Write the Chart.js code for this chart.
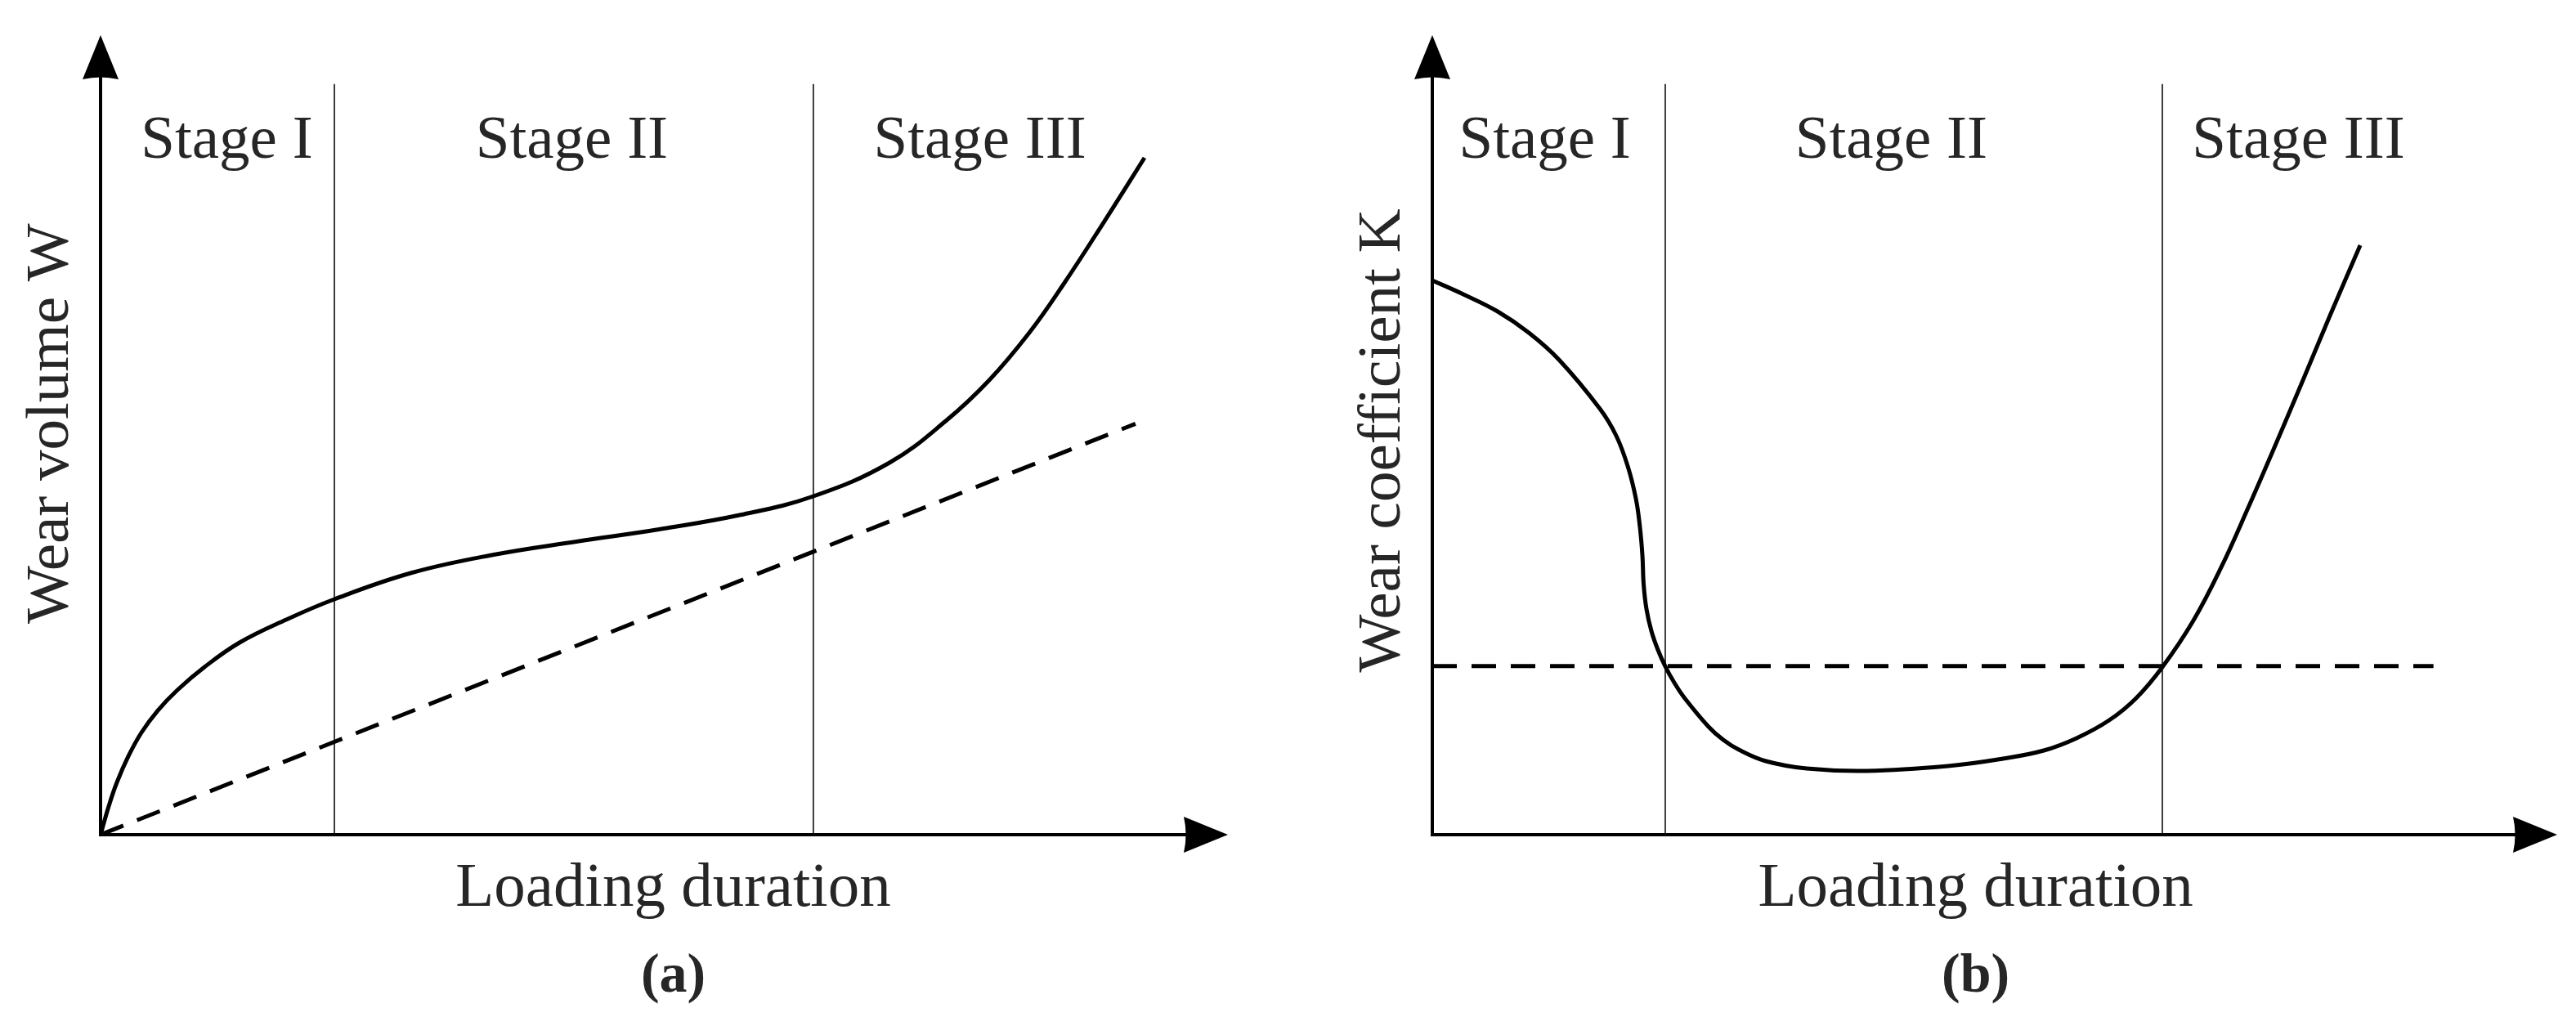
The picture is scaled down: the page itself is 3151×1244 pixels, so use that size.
<!DOCTYPE html>
<html>
<head>
<meta charset="utf-8">
<script src="https://cdn.jsdelivr.net/npm/chart.js@4.4.1/dist/chart.umd.min.js"></script>
<style>
  html, body { margin: 0; padding: 0; background: #fff; }
  #wrap { position: relative; width: 3151px; height: 1244px; }
  canvas { position: absolute; top: 0; }
</style>
</head>
<body>
<div id="wrap">
  <canvas id="panelA" width="1575" height="1244" style="left:0"></canvas>
  <canvas id="panelB" width="1576" height="1244" style="left:1575px"></canvas>
</div>
<script>
// schematic units: loading duration 0-100 along the x arrow, wear 0-100 along the y arrow
var stageNames = ['Stage I', 'Stage II', 'Stage III'];
var stageLabelY = 84.7;
var dividerTop = 93.9;

// (a) wear volume W
var wearVolumeX = [0, 0.73, 1.45, 2.47, 3.63, 5.08, 6.82, 9.21, 12.33, 16.46, 20.74, 27.63,
                   34.88, 42.20, 49.53, 56.78, 63.23, 69.98, 75.05, 78.83, 82.38, 85.35, 88.98, 92.6];
var wearVolumeY = [0, 3.58, 6.54, 9.82, 12.78, 15.54, 18.10, 20.96, 24.03, 26.89, 29.45, 32.77,
                   35.02, 36.66, 38.19, 40.0, 42.33, 46.52, 51.84, 56.85, 62.78, 68.71, 76.58, 84.66];
var linearWearX = [0, 91.8];
var linearWearY = [0, 51.4];
var stageBoundsA = [20.74, 63.23];
var stageLabelXA = [11.2, 41.8, 78.0];

// (b) wear coefficient K
var wearCoefX = [0, 2.76, 5.81, 8.58, 11.26, 14.90, 16.35, 17.37, 18.10, 18.46, 18.68, 18.79, 19.04, 19.48,
                 20.06, 20.71, 21.51, 22.38, 24.56, 25.87, 27.25, 29.65, 33.28, 38.59, 45.86, 50.73,
                 54.36, 57.27, 60.17, 62.57, 64.90, 67.66, 70.13, 72.53, 74.93, 77.40, 79.80, 82.49];
var wearCoefY = [69.33, 67.59, 65.44, 62.78, 59.41, 53.27, 49.90, 46.11, 42.02, 38.45, 34.87, 31.29, 28.22, 25.46,
                 23.11, 21.06, 19.02, 17.18, 13.50, 11.86, 10.63, 9.20, 8.28, 7.98, 8.59, 9.51,
                 10.53, 12.07, 14.31, 17.08, 20.96, 26.79, 33.44, 40.90, 48.67, 56.85, 64.93, 73.72];
var steadyCoefX = [0, 89.0];
var steadyCoefY = [21.1, 21.1];
var stageBoundsB = [20.71, 64.90];
var stageLabelXB = [10.0, 40.8, 77.0];

var FONT = '"Liberation Serif", "Times New Roman", serif';
var TEXT = '#262626';

function pairs(xs, ys) {
  return xs.map(function(x, i) { return {x: x, y: ys[i]}; });
}

function sketchPlugin(o) {
  return {
    id: 'sketch',
    beforeDatasetsDraw: function(chart) {
      var ctx = chart.ctx, x = chart.scales.x, y = chart.scales.y;
      ctx.save();
      ctx.strokeStyle = '#3c3c3c';
      ctx.lineWidth = 2;
      o.bounds.forEach(function(b) {
        var px = x.getPixelForValue(b);
        ctx.beginPath();
        ctx.moveTo(px, y.getPixelForValue(0));
        ctx.lineTo(px, y.getPixelForValue(dividerTop));
        ctx.stroke();
      });
      ctx.restore();
    },
    afterDatasetsDraw: function(chart) {
      var ctx = chart.ctx, x = chart.scales.x, y = chart.scales.y;
      var x0 = x.getPixelForValue(0), y0 = y.getPixelForValue(0);
      var xt = x.getPixelForValue(100), yt = y.getPixelForValue(100);
      var len = 54, half = 22, notch = 5;

      ctx.save();
      ctx.strokeStyle = '#000';
      ctx.fillStyle = '#000';
      ctx.lineWidth = 4;
      ctx.lineCap = 'square';
      ctx.beginPath();
      ctx.moveTo(x0, yt + len - 4);
      ctx.lineTo(x0, y0);
      ctx.lineTo(xt - len + 4, y0);
      ctx.stroke();

      // arrow heads
      ctx.beginPath();
      ctx.moveTo(x0, yt);
      ctx.lineTo(x0 + half, yt + len);
      ctx.quadraticCurveTo(x0, yt + len - notch, x0 - half, yt + len);
      ctx.closePath();
      ctx.fill();
      ctx.beginPath();
      ctx.moveTo(xt, y0);
      ctx.lineTo(xt - len, y0 - half);
      ctx.quadraticCurveTo(xt - len + notch, y0, xt - len, y0 + half);
      ctx.closePath();
      ctx.fill();

      // texts
      ctx.fillStyle = TEXT;
      ctx.textAlign = 'center';
      ctx.textBaseline = 'alphabetic';
      ctx.font = '75px ' + FONT;
      stageNames.forEach(function(s, i) {
        ctx.fillText(s, x.getPixelForValue(o.labelX[i]), y.getPixelForValue(stageLabelY));
      });
      ctx.font = '77px ' + FONT;
      ctx.fillText('Loading duration', x.getPixelForValue(o.titleX), y0 + 87);
      ctx.font = 'bold 68px ' + FONT;
      ctx.fillText(o.tag, x.getPixelForValue(o.titleX), y0 + 192);

      ctx.translate(x0 - 40, y.getPixelForValue(o.yTitleAt));
      ctx.rotate(-Math.PI / 2);
      ctx.font = '75px ' + FONT;
      ctx.fillText(o.yTitle, 0, 0);
      ctx.restore();
    }
  };
}

function makePanel(id, datasets, padding, o) {
  return new Chart(document.getElementById(id), {
    type: 'line',
    data: { datasets: datasets },
    options: {
      responsive: false,
      animation: false,
      devicePixelRatio: 1,
      events: [],
      layout: { padding: padding },
      scales: {
        x: { type: 'linear', min: 0, max: 100, display: false },
        y: { type: 'linear', min: 0, max: 100, display: false }
      },
      plugins: { legend: { display: false }, tooltip: { enabled: false } },
      elements: { point: { radius: 0 } }
    },
    plugins: [sketchPlugin(o)]
  });
}

function solid(data) {
  return { data: data, borderColor: '#000', borderWidth: 5, tension: 0.4, fill: false };
}
function dashed(data) {
  return { data: data, borderColor: '#000', borderWidth: 5, borderDash: [30, 18], fill: false };
}

makePanel('panelA',
  [solid(pairs(wearVolumeX, wearVolumeY)), dashed(pairs(linearWearX, linearWearY))],
  { left: 123, right: 73, top: 43, bottom: 223 },
  { bounds: stageBoundsA, labelX: stageLabelXA, titleX: 50.8, tag: '(a)',
    yTitle: 'Wear volume W', yTitleAt: 51.4 });

makePanel('panelB',
  [solid(pairs(wearCoefX, wearCoefY)), dashed(pairs(steadyCoefX, steadyCoefY))],
  { left: 177, right: 23, top: 43, bottom: 223 },
  { bounds: stageBoundsB, labelX: stageLabelXB, titleX: 48.3, tag: '(b)',
    yTitle: 'Wear coefficient K', yTitleAt: 49.3 });
</script>
</body>
</html>
